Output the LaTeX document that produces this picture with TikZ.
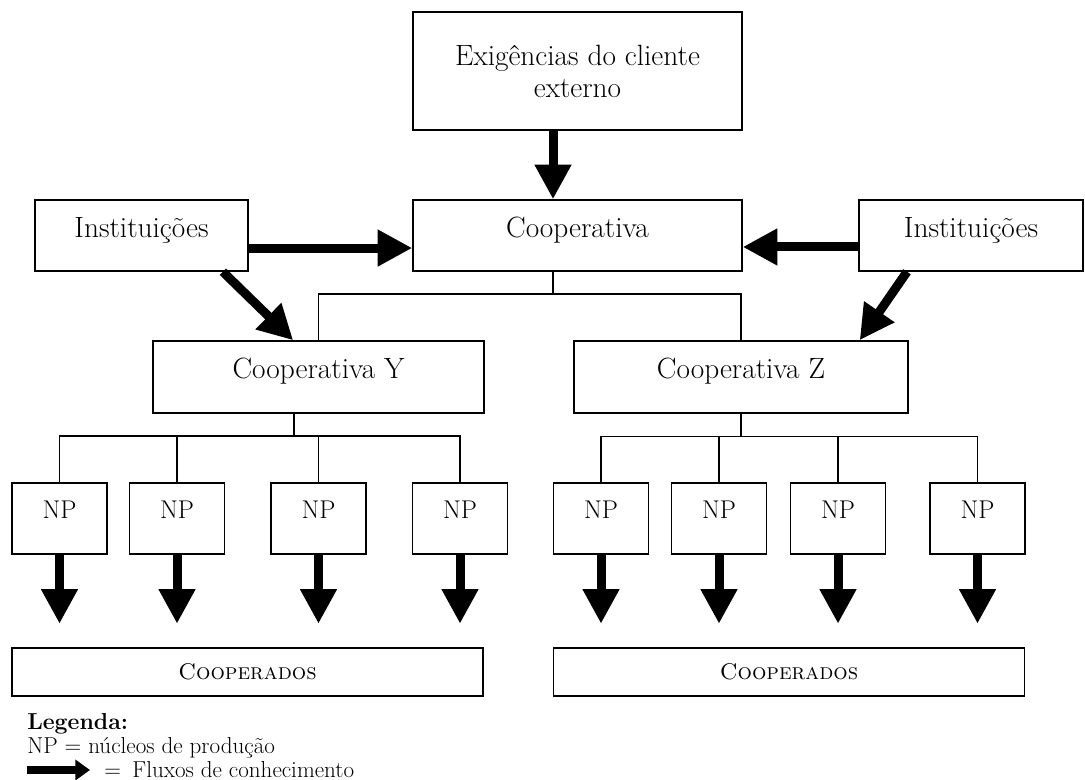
\documentclass[tikz,border=0pt]{standalone}
\usetikzlibrary{arrows.meta}

\begin{document}
\begin{tikzpicture}[
  x=0.75pt, y=-0.75pt,
  every node/.style={inner sep=1pt},
  frame/.style 2 args={draw, line width=1.1pt, inner sep=0pt, align=center,
    minimum width=#1*0.75pt, minimum height=#2*0.75pt,
    font=\fontsize{22}{24}\selectfont},
  oneline/.style={text height=15pt, text depth=12pt},
  np/.style={frame={95}{71}, font=\fontsize{19.25}{22}\selectfont,
    text height=13pt, text depth=13.5pt},
  members/.style={frame={471}{48}, font=\fontsize{17}{20}\selectfont},
  link/.style={draw, line width=0.9pt},
  flow/.style={line width=6.75pt, -{Triangle[width=26pt, length=26pt]}},
  keytext/.style={anchor=base west, inner sep=0pt, font=\fontsize{17.3}{20}\selectfont}]

  \useasboundingbox (0,0) rectangle (1085,780);

  % ---- upper boxes --------------------------------------------------------
  \node[frame={329}{118}]          (exig)  at (577.5,71)    {Exigências do cliente\\externo};
  \node[frame={329}{71}, oneline]  (coop)  at (577.5,235.5) {Cooperativa};
  \node[frame={213}{71}, oneline]  (instL) at (141.5,235.5) {Instituições};
  \node[frame={224}{71}, oneline]  (instR) at (971,235.5)   {Instituições};
  \node[frame={331}{72}, oneline]  (coopY) at (318.5,377)   {Cooperativa Y};
  \node[frame={334}{72}, oneline]  (coopZ) at (741,377)     {Cooperativa Z};

  % ---- production nuclei --------------------------------------------------
  % under Cooperativa Y
  \node[np] (npY1) at (59.5,518.5)  {NP};
  \node[np] (npY2) at (177,518.5)   {NP};
  \node[np] (npY3) at (318.5,518.5) {NP};
  \node[np] (npY4) at (460,518.5)   {NP};
  % under Cooperativa Z
  \node[np] (npZ1) at (601,518.5)   {NP};
  \node[np] (npZ2) at (719,518.5)   {NP};
  \node[np] (npZ3) at (838,518.5)   {NP};
  \node[np] (npZ4) at (977.5,518.5) {NP};

  % ---- members ------------------------------------------------------------
  \node[members] (membY) at (247.5,672) {\textsc{Cooperados}};
  \node[members] (membZ) at (789,672)   {\textsc{Cooperados}};

  % ---- tree lines ---------------------------------------------------------
  \coordinate (coopStem) at (553,271);
  \coordinate (yStem)    at (294,413);
  \draw[link] (coopStem) -- ++(0,23) -| (coopY.north);
  \draw[link] (coopStem) -- ++(0,23) -| (coopZ.north);
  % Cooperativa Y
  \draw[link] (yStem) -- ++(0,23) -| (npY1.north);
  \draw[link] (yStem) -- ++(0,23) -| (npY2.north);
  \draw[link] (yStem) -- ++(0,23) -| (npY3.north);
  \draw[link] (yStem) -- ++(0,23) -| (npY4.north);
  % Cooperativa Z
  \draw[link] (coopZ.south) -- ++(0,23) -| (npZ1.north);
  \draw[link] (coopZ.south) -- ++(0,23) -| (npZ2.north);
  \draw[link] (coopZ.south) -- ++(0,23) -| (npZ3.north);
  \draw[link] (coopZ.south) -- ++(0,23) -| (npZ4.north);

  % ---- knowledge flows ----------------------------------------------------
  \draw[flow] (exig.south -| coopStem) -- (coop.north -| coopStem);
  \draw[flow] ([yshift=-9.4pt]instL.east) -- ([yshift=-9.4pt]coop.west);
  \draw[flow] ([yshift=-8.6pt]instR.west) -- ([yshift=-8.6pt]coop.east);
  \draw[flow] ([xshift=61pt]instL.south)  -- ([xshift=-19pt]coopY.north);
  \draw[flow] ([xshift=-48pt]instR.south) -- ([xshift=89pt]coopZ.north);
  % from each NP down to the members
  \draw[flow] (npY1.south) -- ++(0,69);
  \draw[flow] (npY2.south) -- ++(0,69);
  \draw[flow] (npY3.south) -- ++(0,69);
  \draw[flow] (npY4.south) -- ++(0,69);
  \draw[flow] (npZ1.south) -- ++(0,69);
  \draw[flow] (npZ2.south) -- ++(0,69);
  \draw[flow] (npZ3.south) -- ++(0,69);
  \draw[flow] (npZ4.south) -- ++(0,69);

  % ---- legend -------------------------------------------------------------
  \node[keytext, font=\fontsize{17.3}{20}\selectfont\bfseries] (keyTitle) at (27,729) {Legenda:};
  \node[keytext] (keyNP) at (27,753) {NP = núcleos de produção};
  \coordinate (keyA) at (27,770);
  \coordinate (keyB) at (90,770);
  \draw[line width=6pt, -{Triangle[width=15pt, length=11pt]}] (keyA) -- (keyB);
  \node[keytext] (keyFlow) at (104,777) {=\enspace Fluxos de conhecimento};
\end{tikzpicture}
\end{document}
